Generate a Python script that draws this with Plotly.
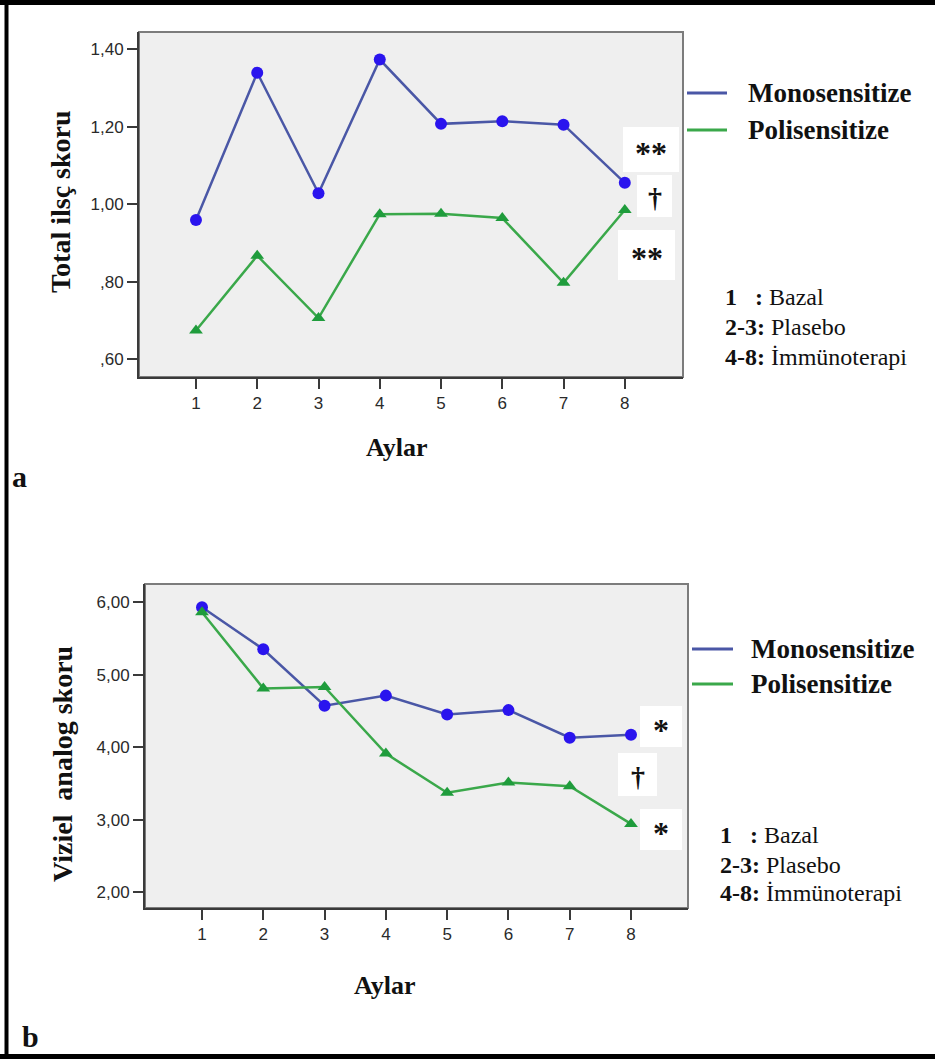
import plotly.graph_objects as go

# ---- data -------------------------------------------------------------
months = [1, 2, 3, 4, 5, 6, 7, 8]
month_labels = ["1", "2", "3", "4", "5", "6", "7", "8"]

# panel a: total symptom score
ilac_mono = [0.959, 1.339, 1.028, 1.373, 1.207, 1.214, 1.205, 1.055]
ilac_poli = [0.674, 0.867, 0.706, 0.974, 0.975, 0.964, 0.797, 0.985]
ilac_ticks = [0.6, 0.8, 1.0, 1.2, 1.4]
ilac_ticktext = [",60", ",80", "1,00", "1,20", "1,40"]

# panel b: visual analogue score
vas_mono = [5.93, 5.35, 4.57, 4.71, 4.45, 4.51, 4.13, 4.17]
vas_poli = [5.86, 4.81, 4.83, 3.91, 3.37, 3.51, 3.46, 2.94]
vas_ticks = [2, 3, 4, 5, 6]
vas_ticktext = ["2,00", "3,00", "4,00", "5,00", "6,00"]

series_names = ["Monosensitize", "Polisensitize"]
period_lines = [("1", "\u00a0\u00a0\u00a0:", "Bazal"),
                ("2-3", ":", "Plasebo"),
                ("4-8", ":", "\u0130mm\u00fcnoterapi")]
sig_a = ["**", "\u2020", "**"]
sig_b = ["*", "\u2020", "*"]

# ---- page geometry (pixels) -------------------------------------------
W, H = 935, 1059


def fx(x):
    return x / W


def fy(y):
    return 1 - y / H


BLUE_LINE = "#4a57a6"
BLUE_MARK = "#2a14ee"
GREEN_LINE = "#3aa84a"
GREEN_MARK = "#1f9c3c"
AX = "#3a3a3a"
SERIF = "Liberation Serif"
SANS = "Liberation Sans"

fig = go.Figure()

fig.add_trace(go.Scatter(x=months, y=ilac_mono, mode="lines+markers",
                         line=dict(color=BLUE_LINE, width=2.5),
                         marker=dict(symbol="circle", size=12, color=BLUE_MARK),
                         name=series_names[0], xaxis="x", yaxis="y"))
fig.add_trace(go.Scatter(x=months, y=ilac_poli, mode="lines+markers",
                         line=dict(color=GREEN_LINE, width=2.5),
                         marker=dict(symbol="triangle-up", size=12, color=GREEN_MARK),
                         name=series_names[1], xaxis="x", yaxis="y"))
fig.add_trace(go.Scatter(x=months, y=vas_mono, mode="lines+markers",
                         line=dict(color=BLUE_LINE, width=2.5),
                         marker=dict(symbol="circle", size=12, color=BLUE_MARK),
                         name=series_names[0], xaxis="x2", yaxis="y2"))
fig.add_trace(go.Scatter(x=months, y=vas_poli, mode="lines+markers",
                         line=dict(color=GREEN_LINE, width=2.5),
                         marker=dict(symbol="triangle-up", size=12, color=GREEN_MARK),
                         name=series_names[1], xaxis="x2", yaxis="y2"))

axis_common = dict(showline=True, linecolor=AX, linewidth=2, ticks="outside",
                   ticklen=10, tickwidth=2, tickcolor=AX, showgrid=False,
                   zeroline=False, tickfont=dict(family=SANS, size=17, color="#2a2a2a"))

fig.update_layout(
    width=W, height=H, margin=dict(l=0, r=0, t=0, b=0),
    paper_bgcolor="white", plot_bgcolor="#efefef", showlegend=False,
    xaxis=dict(domain=[fx(139), fx(683)], range=[0.07, 8.95], anchor="y",
               tickvals=months, ticktext=month_labels, **axis_common),
    yaxis=dict(domain=[fy(377), fy(32)], range=[0.554, 1.444], anchor="x",
               tickvals=ilac_ticks, ticktext=ilac_ticktext, **axis_common),
    xaxis2=dict(domain=[fx(145), fx(688)], range=[0.07, 8.93], anchor="y2",
                tickvals=months, ticktext=month_labels, **axis_common),
    yaxis2=dict(domain=[fy(908), fy(584)], range=[1.78, 6.25], anchor="x2",
                tickvals=vas_ticks, ticktext=vas_ticktext, **axis_common),
)

shapes = []
annotations = []

# grey frame around each plot area (top/right edges)
for xr, yr in (("x domain", "y domain"), ("x2 domain", "y2 domain")):
    shapes.append(dict(type="rect", xref=xr, yref=yr, x0=0, x1=1, y0=0, y1=1,
                       line=dict(color="#7c7c7c", width=2), layer="below"))

# outer black frame
shapes.append(dict(type="line", xref="paper", yref="paper", x0=fx(6.5), x1=fx(6.5),
                   y0=0, y1=1, line=dict(color="black", width=4)))
shapes.append(dict(type="line", xref="paper", yref="paper", x0=0, x1=1,
                   y0=fy(2.5), y1=fy(2.5), line=dict(color="black", width=5)))
shapes.append(dict(type="line", xref="paper", yref="paper", x0=0, x1=1,
                   y0=fy(1056.5), y1=fy(1056.5), line=dict(color="black", width=5)))


def text(x, y, s, size, bold=False, xanchor="center", angle=0, family=SERIF):
    annotations.append(dict(xref="paper", yref="paper", x=fx(x), y=fy(y),
                            text=f"<b>{s}</b>" if bold else s, showarrow=False,
                            xanchor=xanchor, yanchor="middle", textangle=angle,
                            font=dict(family=family, size=size, color="#111")))


def sig_box(x0, y0, x1, y1, s, size, dy):
    shapes.append(dict(type="rect", xref="paper", yref="paper",
                       x0=fx(x0), x1=fx(x1), y0=fy(y1), y1=fy(y0),
                       fillcolor="white", line=dict(width=0), layer="below"))
    text((x0 + x1) / 2, (y0 + y1) / 2 + dy, s, size, bold=True)


def legend(x_line0, x_line1, x_text, ys):
    for y, col, name in zip(ys, (BLUE_LINE, GREEN_LINE), series_names):
        shapes.append(dict(type="line", xref="paper", yref="paper",
                           x0=fx(x_line0), x1=fx(x_line1), y0=fy(y), y1=fy(y),
                           line=dict(color=col, width=3)))
        text(x_text, y, name, 27, bold=True, xanchor="left")


def periods(x, ys):
    for y, (a, b, c) in zip(ys, period_lines):
        annotations.append(dict(xref="paper", yref="paper", x=fx(x), y=fy(y),
                                text=f"<b>{a}{b}</b> {c}", showarrow=False,
                                xanchor="left", yanchor="middle",
                                font=dict(family=SERIF, size=24, color="#111")))


# panel a decorations
sig_box(623, 127, 679, 172, sig_a[0], 32, 3)
sig_box(637, 175, 672, 217, sig_a[1], 28, 2)
sig_box(618, 230, 675, 280, sig_a[2], 32, 3)
legend(687, 727, 746, (93, 130))
periods(723, (297, 327, 357))
text(397, 447, "Aylar", 26, bold=True)
text(60, 202, "Total ilsç skoru", 28, bold=True, angle=-90)
text(19, 476, "a", 30, bold=True)

# panel b decorations
sig_box(640, 706, 682, 747, sig_b[0], 32, 3)
sig_box(618, 753, 657, 796, sig_b[1], 28, 2)
sig_box(640, 809, 682, 850, sig_b[2], 32, 3)
legend(692, 733, 749, (649, 684))
periods(718, (835, 865, 893))
text(385, 985, "Aylar", 26, bold=True)
text(62, 764, "Viziel\u00a0\u00a0analog skoru", 28, bold=True, angle=-90)
text(30, 1036, "b", 30, bold=True)

fig.update_layout(shapes=shapes, annotations=annotations)
fig.write_html("out.html")
